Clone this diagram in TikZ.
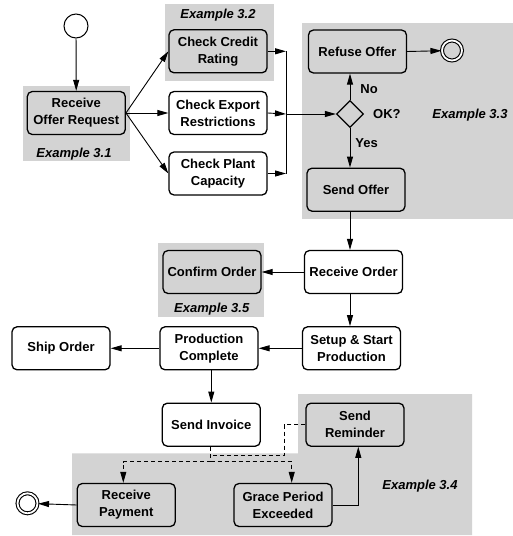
\documentclass[tikz,border=0pt]{standalone}
\usepackage{fontspec}
\setmainfont{Liberation Sans}
\usetikzlibrary{arrows.meta,shapes.geometric}
\definecolor{panel}{RGB}{211,211,211}
\tikzset{
  act/.style={draw, rounded corners=5pt, line width=1.3pt, fill=white,
    minimum width=98pt, minimum height=43pt, inner sep=2pt, align=center,
    font=\fontsize{13}{17}\selectfont\bfseries},
  actg/.style={act, fill=none},
  lbl/.style={font=\fontsize{13}{17}\selectfont\bfseries, inner sep=1pt},
  exlbl/.style={font=\fontsize{13}{17}\selectfont\bfseries\itshape, inner sep=1pt},
  flow/.style={-{Triangle[length=11pt,width=6pt]}, line width=0.9pt},
  msg/.style={flow, dash pattern=on 4pt off 3pt},
  startstate/.style={circle, draw, line width=1pt, fill=white, minimum size=24pt, inner sep=0pt},
  endstate/.style={circle, draw, double=white, double distance=1.8pt, line width=1.1pt,
    minimum size=20pt, inner sep=0pt},
  choice/.style={diamond, draw, line width=1.2pt, minimum width=27pt, minimum height=27pt, inner sep=0pt}
}
\begin{document}
\begin{tikzpicture}[x=1pt,y=-1pt]
        \useasboundingbox (0,0) rectangle (513,536);
        %%Panels
        \fill[panel] (22.7,86) rectangle (130,160.7);
        \fill[panel] (165,4) rectangle (274,81);
        \fill[panel] (302,22.7) rectangle (513,218.5);
        \fill[panel] (158,242.7) rectangle (264,317);
        \fill[panel] (298,394) -- (472,394) -- (472,535) -- (72,535) -- (72,453.3) -- (298,453.3) -- cycle;
        \node[exlbl] (ex31) at (74,154) {Example 3.1};
        \node[exlbl] (ex32) at (218,15) {Example 3.2};
        \node[exlbl] (ex33) at (470,115) {Example 3.3};
        \node[exlbl] (ex35) at (211.7,309) {Example 3.5};
        \node[exlbl] (ex34) at (420,486) {Example 3.4};
        %%Offer
        \node[startstate] (start) at (76,26) {};
        \node[actg] (rreq) at (76.3,113) {Receive\\Offer Request};
        \node[actg] (credit) at (218,51.3) {Check Credit\\Rating};
        \node[act] (export) at (218,113) {Check Export\\Restrictions};
        \node[act] (plant) at (218,173.5) {Check Plant\\Capacity};
        \coordinate (jn) at (286,114);
        \node[choice] (ok) at (350,114) {};
        \node[lbl, anchor=west] (okl) at (372,114) {OK?};
        \node[actg] (refuse) at (357.5,51.5) {Refuse Offer};
        \node[endstate] (endA) at (452,50.5) {};
        \node[actg] (soffer) at (356,189.7) {Send Offer};
        %%Order
        \node[act] (rorder) at (353.5,272) {Receive Order};
        \node[actg] (confirm) at (212,272) {Confirm Order};
        \node[act] (setup) at (351.5,348.3) {Setup \& Start\\Production};
        \node[act] (prodc) at (209,348.3) {Production\\Complete};
        \node[act] (ship) at (61,348.3) {Ship Order};
        %%Payment
        \node[act] (invoice) at (211.3,424.7) {Send Invoice};
        \node[actg] (remind) at (355,424.7) {Send\\Reminder};
        \node[actg] (rpay) at (126.3,505) {Receive\\Payment};
        \node[actg] (grace) at (283,505) {Grace Period\\Exceeded};
        \node[endstate] (endB) at (27.5,503.3) {};
        \coordinate (split) at (210.7,461.7);
        \coordinate (rturn) at (284.3,455);
        \coordinate (rjoin) at (210.7,455);
        %%Flows
        \draw[flow] (start) -- (rreq);
        \draw[flow] (rreq.east) -- (credit.west);
        \draw[flow] (rreq.east) -- (export.west);
        \draw[flow] (rreq.east) -- (plant.west);
        \draw[flow] (credit.east) -- (credit.east -| jn);
        \draw[flow] (export.east) -- (jn);
        \draw[flow] (plant.east) -- (plant.east -| jn);
        \draw[line width=0.9pt] (credit.east -| jn) -- (plant.east -| jn);
        \draw[flow] (jn) -- (ok.west);
        \draw[flow] (ok.north) -- node[lbl, anchor=west, xshift=9pt, yshift=-2pt] (nol) {No} (ok.north |- refuse.south);
        \draw[flow] (ok.south) -- node[lbl, anchor=west, xshift=4pt, yshift=5pt] (yesl) {Yes} (ok.south |- soffer.north);
        \draw[flow] (refuse.east) -- (endA);
        \draw[flow] (soffer.south -| ok) -- (ok |- rorder.north);
        \draw[flow] (rorder.west) -- (confirm.east);
        \draw[flow] (rorder.south -| ok) -- (ok |- setup.north);
        \draw[flow] (setup.west) -- (prodc.east);
        \draw[flow] (prodc.west) -- (ship.east);
        \draw[flow] (invoice.north |- prodc.south) -- (invoice.north);
        \draw[msg, -] (invoice.south -| split) -- (split);
        \draw[msg] (split) -| ([xshift=-3pt]rpay.north);
        \draw[msg] (split) -| ([xshift=8.7pt]grace.north);
        \draw[msg, -] (remind.west) -| (rturn) -- (rjoin);
        \draw[flow] (grace.east) -| ([xshift=3.3pt]remind.south);
        \draw[flow] (rpay.west) -- (endB);
    \end{tikzpicture}
\end{document}
